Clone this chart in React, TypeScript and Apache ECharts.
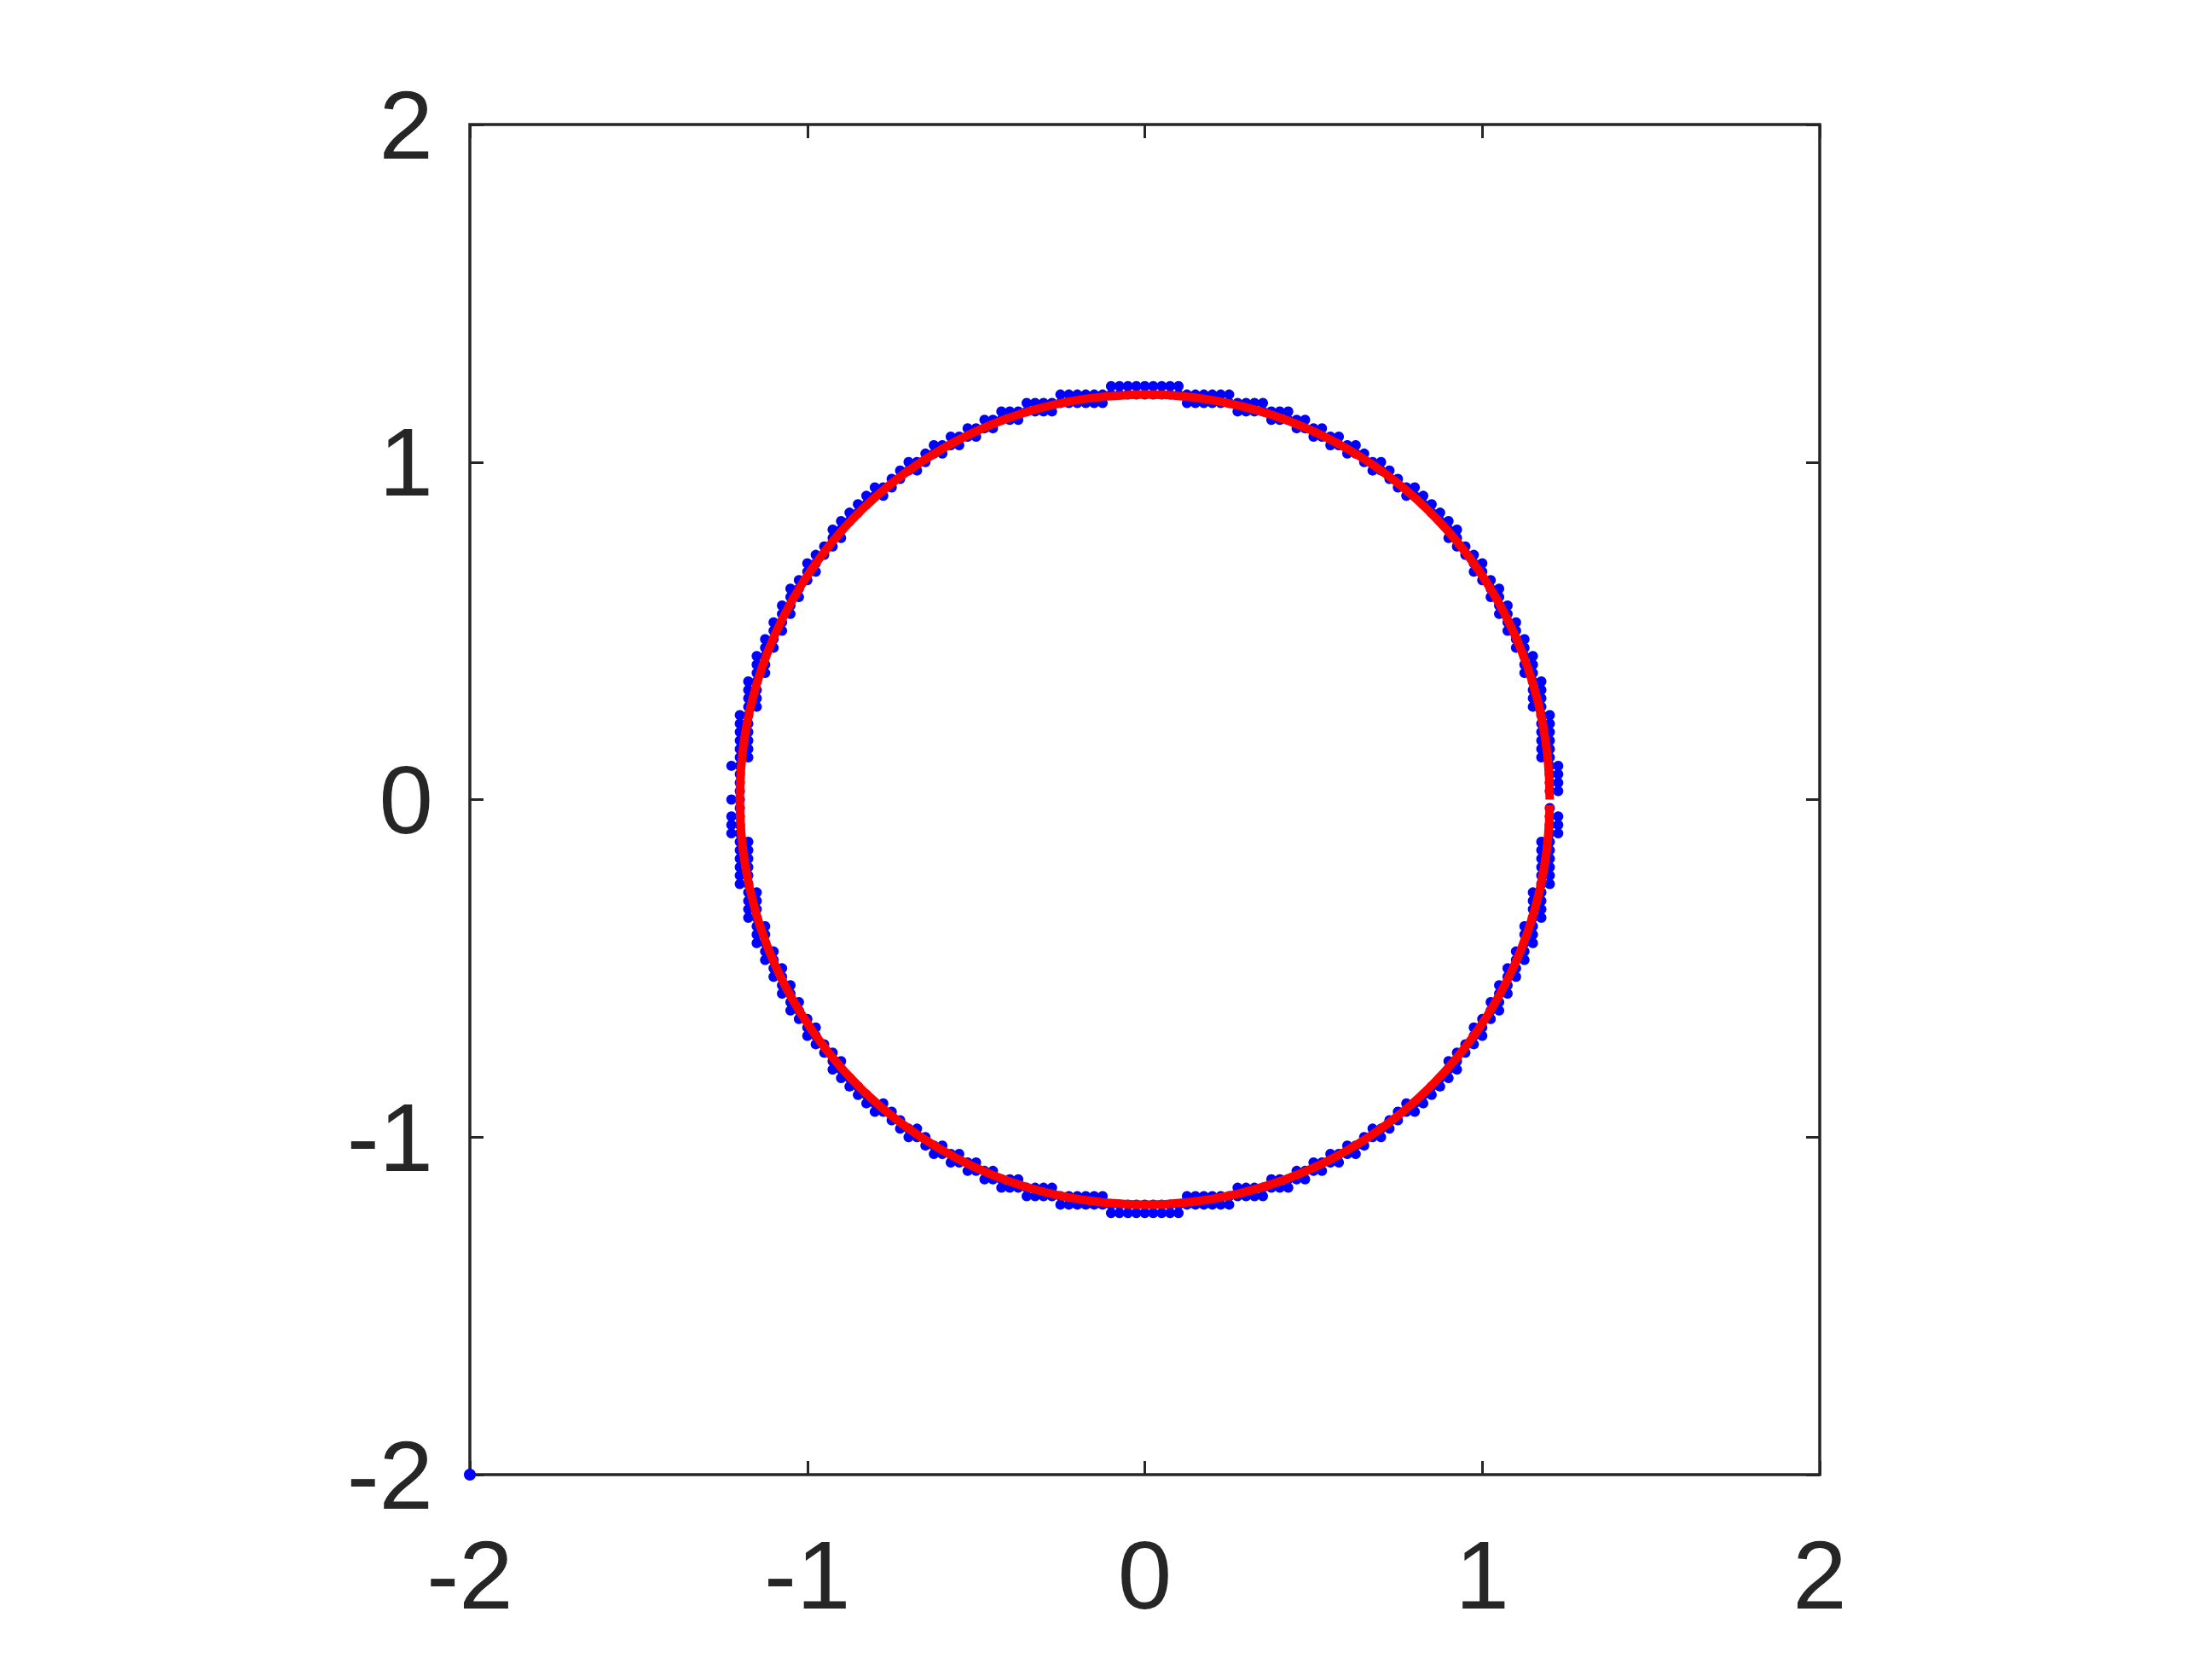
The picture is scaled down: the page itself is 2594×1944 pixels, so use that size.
import React, { useEffect, useRef } from "react";
import * as echarts from "echarts";

// Axis ticks
const X_TICKS = [-2, -1, 0, 1, 2];
const Y_TICKS = [-2, -1, 0, 1, 2];

// Blue markers: grid points (index units of GRID_STEP), one row per y index
const GRID_STEP = 0.025;
const DOT_ROWS: [number, number[]][] = [
  [49, [-4, -3, -2, -1, 0, 1, 2, 3, 4]],
  [48, [-10, -9, -8, -7, -6, -5, -4, -3, -2, -1, 0, 1, 2, 3, 4, 5, 6, 7, 8, 9, 10]],
  [47, [-14, -13, -12, -11, -10, -9, -8, -7, -6, -5, 5, 6, 7, 8, 9, 10, 11, 12, 13, 14]],
  [46, [-17, -16, -15, -14, -13, -12, -11, 11, 12, 13, 14, 15, 16, 17]],
  [45, [-19, -18, -17, -16, -15, 15, 16, 17, 18, 19]],
  [44, [-21, -20, -19, -18, 18, 19, 20, 21]],
  [43, [-23, -22, -21, -20, 20, 21, 22, 23]],
  [42, [-25, -24, -23, -22, 22, 23, 24, 25]],
  [41, [-26, -25, -24, 24, 25, 26]],
  [40, [-28, -27, -26, 26, 27, 28]],
  [39, [-29, -28, -27, 27, 28, 29]],
  [38, [-30, -29, 29, 30]],
  [37, [-32, -31, -30, 30, 31, 32]],
  [36, [-33, -32, -31, 31, 32, 33]],
  [35, [-34, -33, 33, 34]],
  [34, [-35, -34, 34, 35]],
  [33, [-36, -35, 35, 36]],
  [32, [-37, -36, 36, 37]],
  [31, [-37, -36, 36, 37]],
  [30, [-38, -37, 37, 38]],
  [29, [-39, -38, 38, 39]],
  [28, [-40, -39, 39, 40]],
  [27, [-40, -39, 39, 40]],
  [26, [-41, -40, 40, 41]],
  [25, [-42, -41, 41, 42]],
  [24, [-42, -41, 41, 42]],
  [23, [-43, -42, 42, 43]],
  [22, [-43, -42, 42, 43]],
  [21, [-44, -43, 43, 44]],
  [20, [-44, -43, 43, 44]],
  [19, [-45, -44, 44, 45]],
  [18, [-45, -44, 44, 45]],
  [17, [-46, -45, 45, 46]],
  [16, [-46, -45, 45, 46]],
  [15, [-46, -45, 45, 46]],
  [14, [-47, -46, 46, 47]],
  [13, [-47, -46, 46, 47]],
  [12, [-47, -46, 46, 47]],
  [11, [-47, -46, 46, 47]],
  [10, [-48, -47, 47, 48]],
  [9, [-48, -47, 47, 48]],
  [8, [-48, -47, 47, 48]],
  [7, [-48, -47, 47, 48]],
  [6, [-48, -47, 47, 48]],
  [5, [-48, -47, 47, 48]],
  [4, [-49, -48, 48, 49]],
  [3, [-48, 48, 49]],
  [2, [-48, 48, 49]],
  [1, [-48, 48, 49]],
  [0, [-49, -48]],
  [-1, [-48, 48]],
  [-2, [-49, -48, 48, 49]],
  [-3, [-49, -48, 48, 49]],
  [-4, [-49, -48, 48, 49]],
  [-5, [-48, -47, 47, 48]],
  [-6, [-48, -47, 47, 48]],
  [-7, [-48, -47, 47, 48]],
  [-8, [-48, -47, 47, 48]],
  [-9, [-48, -47, 47, 48]],
  [-10, [-48, -47, 47, 48]],
  [-11, [-47, -46, 46, 47]],
  [-12, [-47, -46, 46, 47]],
  [-13, [-47, -46, 46, 47]],
  [-14, [-47, -46, 46, 47]],
  [-15, [-46, -45, 45, 46]],
  [-16, [-46, -45, 45, 46]],
  [-17, [-46, -45, 45, 46]],
  [-18, [-45, -44, 44, 45]],
  [-19, [-45, -44, 44, 45]],
  [-20, [-44, -43, 43, 44]],
  [-21, [-44, -43, 43, 44]],
  [-22, [-43, -42, 42, 43]],
  [-23, [-43, -42, 42, 43]],
  [-24, [-42, -41, 41, 42]],
  [-25, [-42, -41, 41, 42]],
  [-26, [-41, -40, 40, 41]],
  [-27, [-40, -39, 39, 40]],
  [-28, [-40, -39, 39, 40]],
  [-29, [-39, -38, 38, 39]],
  [-30, [-38, -37, 37, 38]],
  [-31, [-37, -36, 36, 37]],
  [-32, [-37, -36, 36, 37]],
  [-33, [-36, -35, 35, 36]],
  [-34, [-35, -34, 34, 35]],
  [-35, [-34, -33, 33, 34]],
  [-36, [-33, -32, -31, 31, 32, 33]],
  [-37, [-32, -31, -30, 30, 31, 32]],
  [-38, [-30, -29, 29, 30]],
  [-39, [-29, -28, -27, 27, 28, 29]],
  [-40, [-28, -27, -26, 26, 27, 28]],
  [-41, [-26, -25, -24, 24, 25, 26]],
  [-42, [-25, -24, -23, -22, 22, 23, 24, 25]],
  [-43, [-23, -22, -21, -20, 20, 21, 22, 23]],
  [-44, [-21, -20, -19, -18, 18, 19, 20, 21]],
  [-45, [-19, -18, -17, -16, -15, 15, 16, 17, 18, 19]],
  [-46, [-17, -16, -15, -14, -13, -12, -11, 11, 12, 13, 14, 15, 16, 17]],
  [-47, [-14, -13, -12, -11, -10, -9, -8, -7, -6, -5, 5, 6, 7, 8, 9, 10, 11, 12, 13, 14]],
  [-48, [-10, -9, -8, -7, -6, -5, -4, -3, -2, -1, 0, 1, 2, 3, 4, 5, 6, 7, 8, 9, 10]],
  [-49, [-4, -3, -2, -1, 0, 1, 2, 3, 4]],
];

// Stray marker in the lower-left corner
const EXTRA_DOTS: [number, number][] = [[-2, -2]];

// Red fitted circle: centre, radius, and the small open gap (degrees, below the +x axis)
const CIRCLE_CENTER = [0, 0];
const CIRCLE_RADIUS = 1.2;
const CIRCLE_GAP_DEG = [0, 0.8];

const AXIS_COLOR = "#262626";
const FONT = 'Arial, "Liberation Sans", Helvetica, sans-serif';

export default function App() {
  const ref = useRef<HTMLDivElement>(null);

  useEffect(() => {
    if (!ref.current) return;
    const chart = echarts.init(ref.current, undefined, { renderer: "svg" });

    const dots: [number, number][] = [];
    DOT_ROWS.forEach(([j, cols]) => {
      cols.forEach((i) => dots.push([i * GRID_STEP, j * GRID_STEP]));
    });

    const labelStyle = {
      fontSize: 114,
      color: AXIS_COLOR,
      fontFamily: FONT,
    };
    const tickStyle = {
      show: true,
      inside: true,
      length: 16,
      lineStyle: { color: AXIS_COLOR, width: 3 },
    };
    const hiddenLine = { show: false, onZero: false };

    const option: any = {
      animation: false,
      backgroundColor: "#ffffff",
      grid: {
        left: 551,
        top: 146,
        width: 1583,
        height: 1583,
        show: true,
        borderColor: AXIS_COLOR,
        borderWidth: 3.5,
        backgroundColor: "transparent",
        containLabel: false,
        outerBoundsMode: "none",
      },
      xAxis: [
        {
          type: "value",
          min: X_TICKS[0],
          max: X_TICKS[X_TICKS.length - 1],
          interval: 1,
          position: "bottom",
          axisLine: hiddenLine,
          axisTick: tickStyle,
          splitLine: { show: false },
          axisLabel: { ...labelStyle, margin: 60 },
        },
        {
          type: "value",
          min: X_TICKS[0],
          max: X_TICKS[X_TICKS.length - 1],
          interval: 1,
          position: "top",
          axisLine: hiddenLine,
          axisTick: tickStyle,
          splitLine: { show: false },
          axisLabel: { show: false },
        },
      ],
      yAxis: [
        {
          type: "value",
          min: Y_TICKS[0],
          max: Y_TICKS[Y_TICKS.length - 1],
          interval: 1,
          position: "left",
          axisLine: hiddenLine,
          axisTick: tickStyle,
          splitLine: { show: false },
          axisLabel: { ...labelStyle, margin: 43 },
        },
        {
          type: "value",
          min: Y_TICKS[0],
          max: Y_TICKS[Y_TICKS.length - 1],
          interval: 1,
          position: "right",
          axisLine: hiddenLine,
          axisTick: tickStyle,
          splitLine: { show: false },
          axisLabel: { show: false },
        },
      ],
      series: [
        {
          type: "scatter",
          xAxisIndex: 0,
          yAxisIndex: 0,
          data: dots,
          symbol: "circle",
          symbolSize: 12,
          itemStyle: { color: "#0000ff", borderWidth: 0, opacity: 1 },
          clip: false,
          silent: true,
          z: 2,
        },
        {
          type: "scatter",
          xAxisIndex: 0,
          yAxisIndex: 0,
          data: EXTRA_DOTS,
          symbol: "circle",
          symbolSize: 14,
          itemStyle: { color: "#0000ff", borderWidth: 0, opacity: 1 },
          clip: false,
          silent: true,
          z: 4,
        },
        {
          type: "custom",
          xAxisIndex: 0,
          yAxisIndex: 0,
          data: [[CIRCLE_CENTER[0], CIRCLE_CENTER[1], CIRCLE_RADIUS]],
          encode: { x: 0, y: 1 },
          clip: false,
          silent: true,
          z: 3,
          renderItem: (params: any, api: any) => {
            const c = api.coord([api.value(0), api.value(1)]);
            const s = api.size([api.value(2), api.value(2)]);
            const r = s[0];
            const start = (CIRCLE_GAP_DEG[1] * Math.PI) / 180;
            const end = 2 * Math.PI + (CIRCLE_GAP_DEG[0] * Math.PI) / 180;
            return {
              type: "arc",
              shape: { cx: c[0], cy: c[1], r, startAngle: start, endAngle: end, clockwise: true },
              style: { stroke: "#ff0000", lineWidth: 10, fill: null, lineCap: "butt" },
            };
          },
        },
      ],
    };

    chart.setOption(option);
    return () => chart.dispose();
  }, []);

  return (
    <div
      ref={ref}
      style={{ position: "absolute", left: 0, top: 0, width: 2594, height: 1944, background: "#fff" }}
    />
  );
}
